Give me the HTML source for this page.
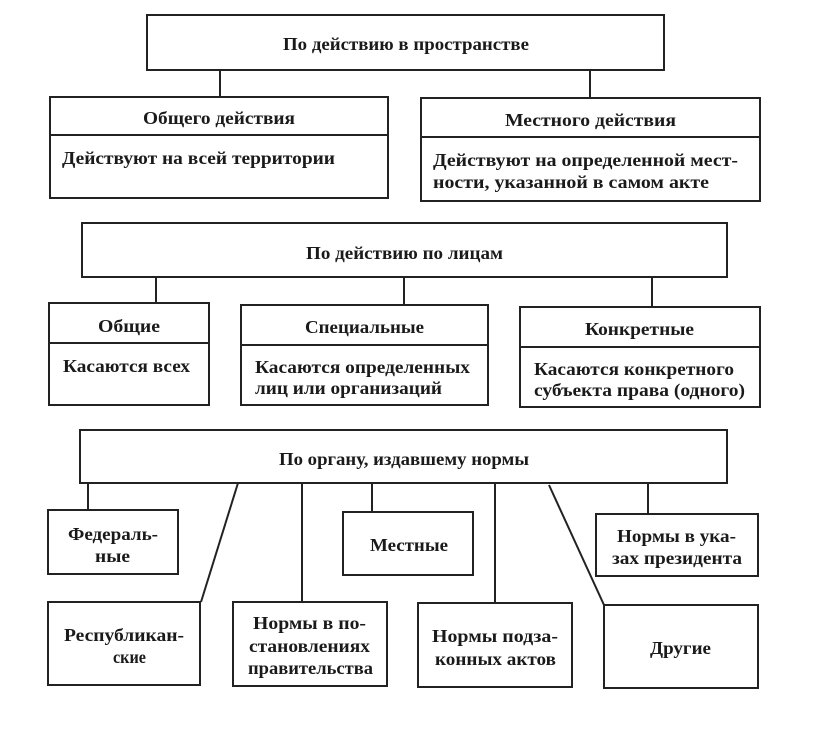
<!DOCTYPE html>
<html><head><meta charset="utf-8"><style>
html,body{margin:0;padding:0;background:#fff;}
svg{display:block;}
text{font-family:"Liberation Serif","DejaVu Serif",serif;fill:#1a1a1a;font-size:18px;font-weight:bold;}
rect,line{stroke:#222;stroke-width:2;fill:none;}
</style></head><body>
<svg width="816" height="731" viewBox="0 0 816 731" xmlns="http://www.w3.org/2000/svg">
<rect x="147" y="15" width="517" height="55"/>
<text x="283" y="50" textLength="246" lengthAdjust="spacingAndGlyphs">По действию в пространстве</text>
<line x1="220" y1="70" x2="220" y2="97"/>
<line x1="590" y1="70" x2="590" y2="98"/>

<rect x="50" y="97" width="338" height="101"/>
<line x1="50" y1="135" x2="388" y2="135"/>
<text x="143" y="124" textLength="152" lengthAdjust="spacingAndGlyphs">Общего действия</text>
<text x="62" y="164" textLength="273" lengthAdjust="spacingAndGlyphs">Действуют на всей территории</text>

<rect x="421" y="98" width="339" height="103"/>
<line x1="421" y1="137" x2="760" y2="137"/>
<text x="505" y="126" textLength="171" lengthAdjust="spacingAndGlyphs">Местного действия</text>
<text x="433" y="166" textLength="305" lengthAdjust="spacingAndGlyphs">Действуют на определенной мест-</text>
<text x="433" y="188" textLength="276" lengthAdjust="spacingAndGlyphs">ности, указанной в самом акте</text>

<rect x="82" y="223" width="645" height="54"/>
<text x="306" y="259" textLength="197" lengthAdjust="spacingAndGlyphs">По действию по лицам</text>
<line x1="156" y1="277" x2="156" y2="303"/>
<line x1="404" y1="277" x2="404" y2="305"/>
<line x1="652" y1="277" x2="652" y2="307"/>

<rect x="49" y="303" width="160" height="102"/>
<line x1="49" y1="343" x2="209" y2="343"/>
<text x="98" y="332" textLength="62" lengthAdjust="spacingAndGlyphs">Общие</text>
<text x="63" y="372" textLength="127" lengthAdjust="spacingAndGlyphs">Касаются всех</text>

<rect x="241" y="305" width="247" height="100"/>
<line x1="241" y1="345" x2="488" y2="345"/>
<text x="305" y="333" textLength="119" lengthAdjust="spacingAndGlyphs">Специальные</text>
<text x="255" y="373" textLength="215" lengthAdjust="spacingAndGlyphs">Касаются определенных</text>
<text x="255" y="394" textLength="187" lengthAdjust="spacingAndGlyphs">лиц или организаций</text>

<rect x="520" y="307" width="240" height="100"/>
<line x1="520" y1="347" x2="760" y2="347"/>
<text x="585" y="335" textLength="109" lengthAdjust="spacingAndGlyphs">Конкретные</text>
<text x="534" y="375" textLength="200" lengthAdjust="spacingAndGlyphs">Касаются конкретного</text>
<text x="534" y="396" textLength="211" lengthAdjust="spacingAndGlyphs">субъекта права (одного)</text>

<rect x="80" y="430" width="647" height="53"/>
<text x="279" y="465" textLength="250" lengthAdjust="spacingAndGlyphs">По органу, издавшему нормы</text>
<line x1="88" y1="483" x2="88" y2="510"/>
<line x1="238" y1="483" x2="201" y2="602"/>
<line x1="302" y1="483" x2="302" y2="602"/>
<line x1="372" y1="483" x2="372" y2="512"/>
<line x1="495" y1="483" x2="495" y2="603"/>
<line x1="549" y1="485" x2="604" y2="605"/>
<line x1="648" y1="484" x2="648" y2="514"/>

<rect x="48" y="510" width="130" height="64"/>
<text x="68" y="540" textLength="90" lengthAdjust="spacingAndGlyphs">Федераль-</text>
<text x="95" y="562" textLength="35" lengthAdjust="spacingAndGlyphs">ные</text>

<rect x="343" y="512" width="130" height="63"/>
<text x="370" y="551" textLength="78" lengthAdjust="spacingAndGlyphs">Местные</text>

<rect x="596" y="514" width="162" height="62"/>
<text x="617" y="542" textLength="119" lengthAdjust="spacingAndGlyphs">Нормы в ука-</text>
<text x="612" y="564" textLength="130" lengthAdjust="spacingAndGlyphs">зах президента</text>

<rect x="48" y="602" width="152" height="83"/>
<text x="64" y="641" textLength="120" lengthAdjust="spacingAndGlyphs">Республикан-</text>
<text x="113" y="663" textLength="33" lengthAdjust="spacingAndGlyphs">ские</text>

<rect x="233" y="602" width="154" height="84"/>
<text x="253" y="629" textLength="113" lengthAdjust="spacingAndGlyphs">Нормы в по-</text>
<text x="249" y="652" textLength="121" lengthAdjust="spacingAndGlyphs">становлениях</text>
<text x="248" y="674" textLength="125" lengthAdjust="spacingAndGlyphs">правительства</text>

<rect x="418" y="603" width="154" height="84"/>
<text x="432" y="642" textLength="126" lengthAdjust="spacingAndGlyphs">Нормы подза-</text>
<text x="435" y="665" textLength="121" lengthAdjust="spacingAndGlyphs">конных актов</text>

<rect x="604" y="605" width="154" height="83"/>
<text x="650" y="654" textLength="61" lengthAdjust="spacingAndGlyphs">Другие</text>
</svg>
</body></html>
